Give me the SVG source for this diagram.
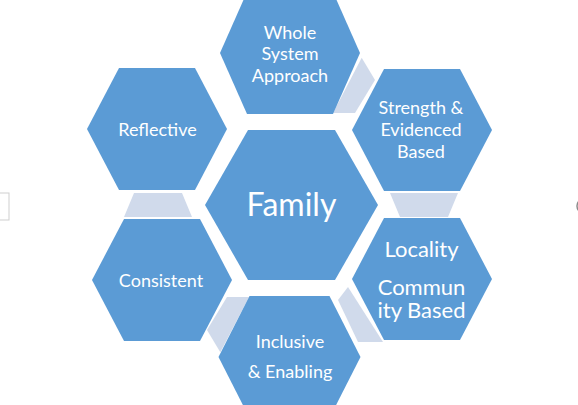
<svg xmlns="http://www.w3.org/2000/svg" width="578" height="405" viewBox="0 0 578 405">
<style>
.hex{fill:#5B9BD5;}
.con{fill:#D0DAEB;}
text{font-family:Lato,"Open Sans","Liberation Sans",sans-serif;fill:#ffffff;text-anchor:middle;}
.t{font-size:18px;}
.tl{font-size:22px;}
.tc{font-size:32px;}
</style>
<rect width="578" height="405" fill="#ffffff"/>
<rect x="-2" y="193" width="11" height="27" fill="none" stroke="#cfcfcf" stroke-width="1"/>
<circle cx="584" cy="206" r="7" fill="#ffffff" stroke="#8a8a8a" stroke-width="1.5"/>
<ellipse cx="291" cy="-3" rx="6" ry="6" fill="#a0a0a0"/>
<g id="connectors">
<polygon class="con" points="361.7,57.7 375,80 355,113 333,113"/>
<polygon class="con" points="390,193 458,193 448,217 400,217"/>
<polygon class="con" points="348,287 338,300 358,342 383,342"/>
<polygon class="con" points="220.3,352.3 207,330 227,297 249,297"/>
<polygon class="con" points="192,217 124,217 134,193 182,193"/>
</g>
<g id="family">
<polygon class="hex" points="205,205 248,130 335,130 378,205 335,280 248,280"/>
<text class="tc" x="291.5" y="216">Family</text>
</g>
<g id="whole-system">
<polygon class="hex" points="220,53 247,-8 333,-8 360,53 333,114 247,114"/>
<text class="t" x="290" y="38.5">Whole</text>
<text class="t" x="290" y="60">System</text>
<text class="t" x="290" y="81.5">Approach</text>
</g>
<g id="strength">
<polygon class="hex" points="352,130 384,69 460,69 492,130 460,191 384,191"/>
<text class="t" x="421" y="114">Strength &amp;</text>
<text class="t" x="421" y="136">Evidenced</text>
<text class="t" x="421" y="157.5">Based</text>
</g>
<g id="locality">
<polygon class="hex" points="352,279 384,218 460,218 492,279 460,340 384,340"/>
<text class="tl" x="421.5" y="256.5">Locality</text>
<text class="tl" x="421.5" y="295">Commun</text>
<text class="tl" x="421.5" y="317.5">ity Based</text>
</g>
<g id="inclusive">
<polygon class="hex" points="218.5,357 249.5,296 329.5,296 360.5,357 329.5,418 249.5,418"/>
<text class="t" x="290" y="348.3">Inclusive</text>
<text class="t" x="290" y="378.3">&amp; Enabling</text>
</g>
<g id="consistent">
<polygon class="hex" points="92,280 124,219 200,219 232,280 200,341 124,341"/>
<text class="t" x="161" y="287.3">Consistent</text>
</g>
<g id="reflective">
<polygon class="hex" points="87,129 119,68 195,68 227,129 195,190 119,190"/>
<text class="t" x="157.5" y="136">Reflective</text>
</g>
</svg>
